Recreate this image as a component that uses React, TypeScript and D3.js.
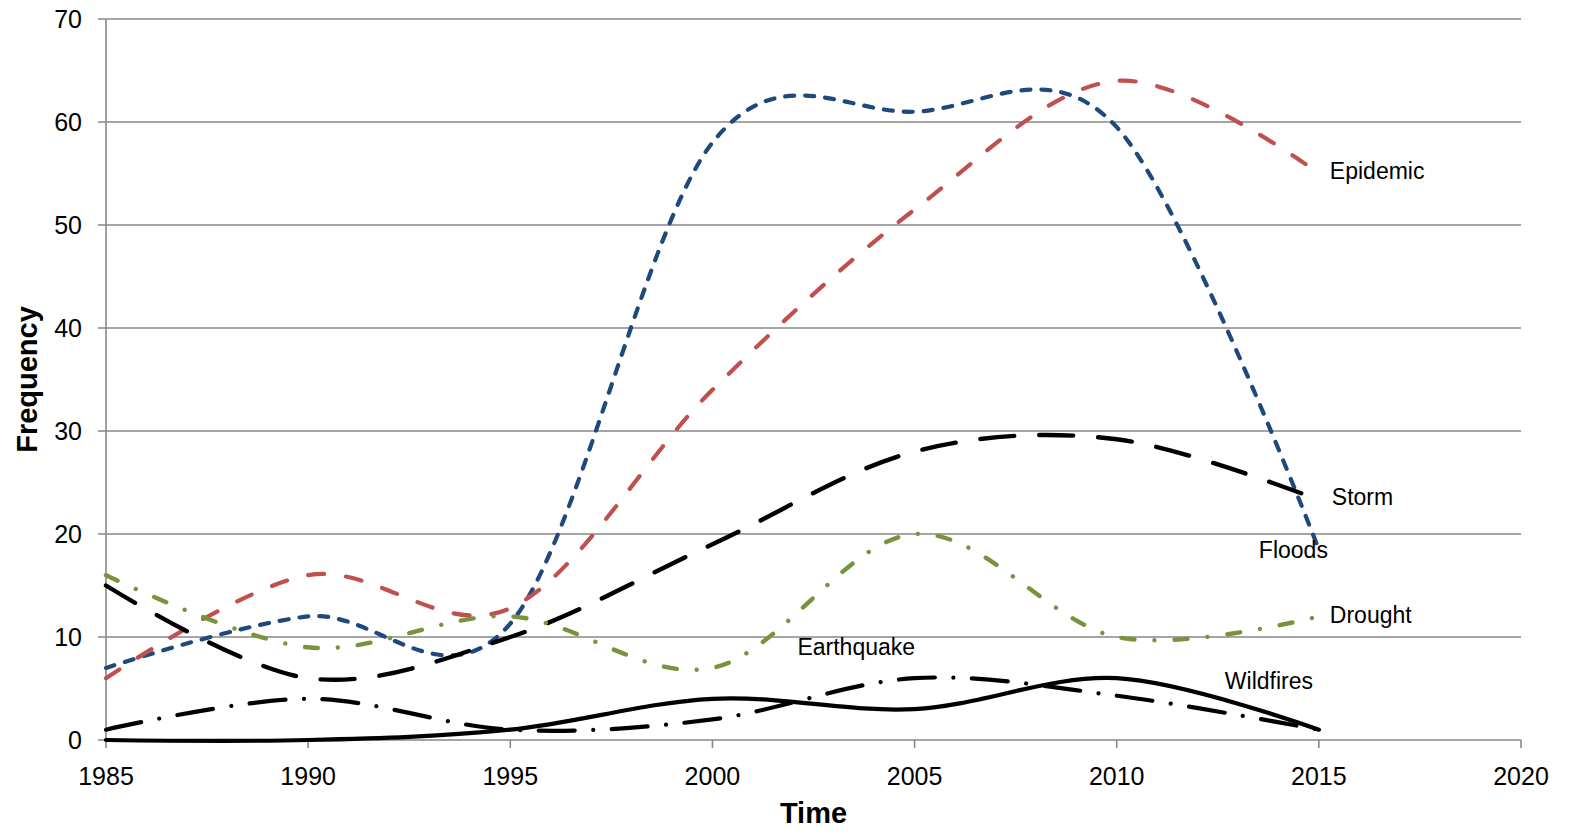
import React from 'react';
import * as d3 from 'd3';

const years = [1985, 1990, 1995, 2000, 2005, 2010, 2015];
const epidemic = [6, 16, 12.8, 34, 51.5, 64, 55];
const floods = [7, 12, 11.3, 58, 61, 59.5, 18.5];
const storm = [15, 6, 10, 19, 28, 29.2, 23.3];
const drought = [16, 9, 12, 7, 20, 10, 12];
const earthquake = [1, 4, 1, 2, 6, 4.3, 1];
const wildfires = [0, 0, 1, 4, 3, 6, 1];
const xTicks = [1985, 1990, 1995, 2000, 2005, 2010, 2015, 2020];
const yTicks = [0, 10, 20, 30, 40, 50, 60, 70];

const W = 1587;
const H = 836;
const FONT = "'Liberation Sans', Arial, Helvetica, sans-serif";

const x = d3.scaleLinear().domain([1985, 2020]).range([106, 1521]);
const y = d3.scaleLinear().domain([0, 70]).range([740, 19]);

type Series = {
  name: string;
  values: number[];
  color: string;
  width: number;
  dash: string;
  cap: 'round' | 'butt';
  label: { dx: number; dy: number; year: number; value: number };
};

const series: Series[] = [
  { name: 'Floods', values: floods, color: '#1F497D', width: 4.2, dash: '9,11', cap: 'round', label: { year: 2015, value: 18.5, dx: -60, dy: 9 } },
  { name: 'Epidemic', values: epidemic, color: '#C0504D', width: 4.2, dash: '16,22', cap: 'round', label: { year: 2015, value: 55, dx: 11, dy: 5 } },
  { name: 'Storm', values: storm, color: '#000000', width: 4.4, dash: '34,25', cap: 'round', label: { year: 2015, value: 23.3, dx: 13, dy: 5 } },
  { name: 'Drought', values: drought, color: '#77933C', width: 4.4, dash: '13,20,0.01,20', cap: 'round', label: { year: 2015, value: 12, dx: 11, dy: 7 } },
  { name: 'Earthquake', values: earthquake, color: '#000000', width: 4.2, dash: '36,18.5,0.01,18.5', cap: 'round', label: { year: 2000, value: 8.3, dx: 85, dy: 0 } },
  { name: 'Wildfires', values: wildfires, color: '#000000', width: 4.2, dash: 'none', cap: 'round', label: { year: 2015, value: 5, dx: -94, dy: 0 } },
];

const line = d3
  .line<[number, number]>()
  .x((d) => x(d[0]))
  .y((d) => y(d[1]))
  .curve(d3.curveCardinal.tension(0));

export default function App() {
  const gridColor = '#878787';
  return (
    <svg
      width={W}
      height={H}
      style={{ position: 'absolute', left: 0, top: 0, background: '#fff' }}
      xmlns="http://www.w3.org/2000/svg"
    >
      <rect x={0} y={0} width={W} height={H} fill="#fff" />
      {yTicks.map((t) => (
        <line key={'g' + t} x1={x(1985) - 8} x2={x(2020)} y1={y(t)} y2={y(t)} stroke={gridColor} strokeWidth={1.6} />
      ))}
      <line x1={x(1985)} x2={x(1985)} y1={y(70)} y2={y(0) + 8} stroke={gridColor} strokeWidth={1.6} />
      {xTicks.slice(1).map((t) => (
        <line key={'xt' + t} x1={x(t)} x2={x(t)} y1={y(0)} y2={y(0) + 8} stroke={gridColor} strokeWidth={1.6} />
      ))}
      {yTicks.map((t) => (
        <text key={'yl' + t} x={82} y={y(t)} dy="0.36em" textAnchor="end" fontFamily={FONT} fontSize={25} fill="#000">
          {t}
        </text>
      ))}
      {xTicks.map((t) => (
        <text key={'xl' + t} x={x(t)} y={785} textAnchor="middle" fontFamily={FONT} fontSize={25} fill="#000">
          {t}
        </text>
      ))}
      <text x={(x(1985) + x(2020)) / 2} y={823} textAnchor="middle" fontFamily={FONT} fontSize={29} fontWeight="bold" fill="#000">
        Time
      </text>
      <text
        transform={`translate(37, ${(y(0) + y(70)) / 2}) rotate(-90)`}
        textAnchor="middle"
        fontFamily={FONT}
        fontSize={29}
        fontWeight="bold"
        fill="#000"
      >
        Frequency
      </text>
      {series.map((s) => (
        <path
          key={s.name}
          d={line(years.map((yr, i) => [yr, s.values[i]] as [number, number])) || ''}
          fill="none"
          stroke={s.color}
          strokeWidth={s.width}
          strokeDasharray={s.dash}
          strokeLinecap={s.cap}
          strokeLinejoin="round"
        />
      ))}
      {series.map((s) => (
        <text
          key={'lab' + s.name}
          x={x(s.label.year) + s.label.dx}
          y={y(s.label.value) + s.label.dy}
          fontFamily={FONT}
          fontSize={23}
          fill="#000"
        >
          {s.name}
        </text>
      ))}
    </svg>
  );
}
